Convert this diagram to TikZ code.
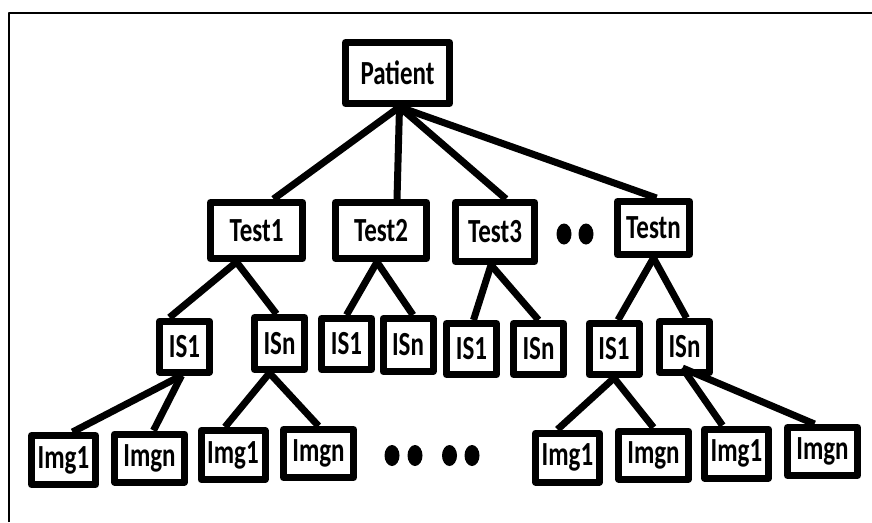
\documentclass[tikz,border=0pt]{standalone}
\usepackage{fontspec}
\usepackage{graphicx}
\newfontfamily\boxfont{Carlito}
\newcommand{\tall}[1]{\scalebox{1}[1.35]{#1}}

\begin{document}
\begin{tikzpicture}[x=1pt, y=-1pt, line join=round,
    box/.style={draw, line width=7pt, fill=white, inner sep=0pt,
        font=\boxfont\bfseries\fontsize{25}{25}\selectfont},
    patbox/.style={box, minimum width=104pt, minimum height=61pt},
    testbox/.style={box, minimum width=92pt, minimum height=56pt},
    isbox/.style={box, minimum width=50pt, minimum height=51pt},
    imgone/.style={box, minimum width=64pt, minimum height=49pt},
    imgn/.style={box, minimum width=70pt, minimum height=48pt},
    link/.style={line width=7pt}]
    \useasboundingbox (0,0) rectangle (872,522);

    % 1. 外框（只有左边和上边）
    \draw[line width=1.6pt] (9,522) -- (9,13) -- (872,13);

    % 2. 根与第一层
    \node[patbox] (pat) at (397.5,73) {\tall{Patient}};
    \node[testbox] (t1) at (256.5,230.5) {\tall{Test1}};
    \node[testbox, minimum width=91pt] (t2) at (381,230.5) {\tall{Test2}};
    \node[testbox, minimum width=79pt, minimum height=59pt] (t3) at (495,232) {\tall{Test3}};
    \node[testbox, minimum width=72pt, minimum height=53pt] (tn) at (653.5,228) {\tall{Testn}};

    % 3. 第二层
    \node[isbox] (s11) at (184.5,346.5) {\tall{IS1}};
    \node[isbox, minimum height=52pt] (s1n) at (279.5,343.5) {\tall{ISn}};
    \node[isbox] (s21) at (346.5,344) {\tall{IS1}};
    \node[isbox, minimum height=53pt] (s2n) at (408,345) {\tall{ISn}};
    \node[isbox] (s31) at (471.5,349) {\tall{IS1}};
    \node[isbox] (s3n) at (538.5,349) {\tall{ISn}};
    \node[isbox] (sn1) at (614,349) {\tall{IS1}};
    \node[isbox] (snn) at (684.5,347) {\tall{ISn}};

    % 4. 第三层
    \node[imgone] (m1a) at (63.5,460) {\tall{Img1}};
    \node[imgn] (m1b) at (149.5,458) {\tall{Imgn}};
    \node[imgone] (m2a) at (233,455) {\tall{Img1}};
    \node[imgn] (m2b) at (318.5,453.5) {\tall{Imgn}};
    \node[imgone] (m3a) at (567.5,457.5) {\tall{Img1}};
    \node[imgn] (m3b) at (653.5,455) {\tall{Imgn}};
    \node[imgone] (m4a) at (736.5,453.5) {\tall{Img1}};
    \node[imgn] (m4b) at (822.5,451.5) {\tall{Imgn}};

    % 5. 连线
    \draw[link] ([xshift=2pt]pat.south) -- ([xshift=17pt]t1.north);
    \draw[link] ([xshift=2pt]pat.south) -- ([xshift=16pt]t2.north);
    \draw[link] ([xshift=2pt]pat.south) -- ([xshift=11pt]t3.north);
    \draw[link] ([xshift=2pt]pat.south) -- ([xshift=3pt]tn.north);

    \draw[link] ([xshift=-20pt]t1.south) -- ([xshift=-15pt]s11.north);
    \draw[link] ([xshift=-20pt]t1.south) -- ([xshift=-3pt]s1n.north);
    \draw[link] ([xshift=-4pt]t2.south) -- (s21.north);
    \draw[link] ([xshift=-4pt]t2.south) -- ([xshift=5pt]s2n.north);
    \draw[link] ([xshift=-4pt]t3.south) -- ([xshift=2pt]s31.north);
    \draw[link] ([xshift=-4pt]t3.south) -- (s3n.north);
    \draw[link] (tn.south) -- ([xshift=4pt]sn1.north);
    \draw[link] (tn.south) -- ([xshift=2pt]snn.north);

    \draw[link] ([xshift=-3pt]s11.south) -- ([xshift=9pt]m1a.north);
    \draw[link] ([xshift=-3pt]s11.south) -- ([xshift=4pt]m1b.north);
    \draw[link] ([xshift=-10pt]s1n.south) -- ([xshift=-8pt]m2a.north);
    \draw[link] ([xshift=-10pt]s1n.south) -- (m2b.north);
    \draw[link] (sn1.south) -- ([xshift=-10pt]m3a.north);
    \draw[link] (sn1.south) -- (m3b.north);
    \draw[link] ([xshift=-2pt, yshift=8pt]snn.south) -- ([xshift=-14pt]m4a.north);
    \draw[link] ([xshift=-2pt, yshift=8pt]snn.south) -- ([xshift=-8pt]m4b.north);

    % 6. 省略点
    \fill (564,234) ellipse (7.5pt and 10.5pt);
    \fill (586,234) ellipse (7.5pt and 10.5pt);
    \fill (392,455.5) ellipse (7.5pt and 10.5pt);
    \fill (415,455.5) ellipse (7.5pt and 10.5pt);
    \fill (449.5,455.5) ellipse (7.5pt and 10.5pt);
    \fill (472,455.5) ellipse (7.5pt and 10.5pt);

\end{tikzpicture}
\end{document}
